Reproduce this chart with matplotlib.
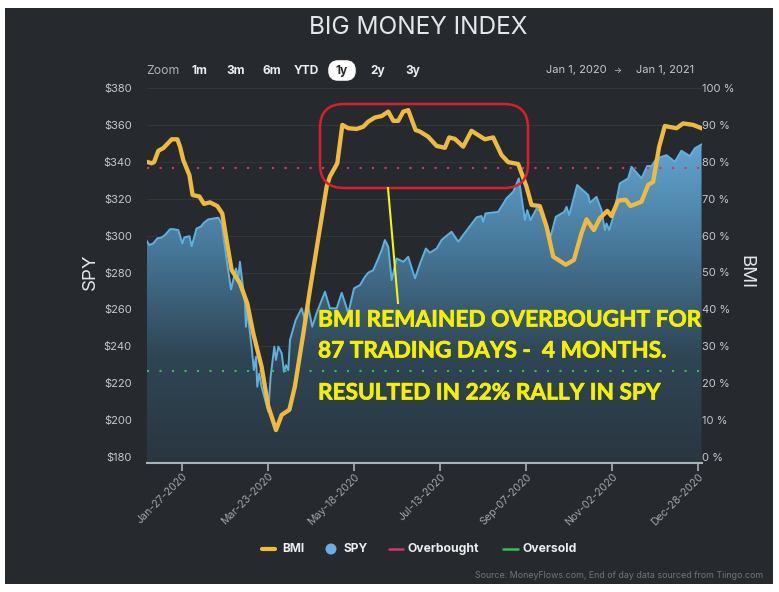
import numpy as np
import matplotlib
matplotlib.use('Agg')
import matplotlib.pyplot as plt
import matplotlib.patheffects as pe
from matplotlib.colors import LinearSegmentedColormap
from matplotlib.patches import FancyBboxPatch, Polygon, Rectangle, Circle

# days counted from Jan 1 2020
bmi_days = [3, 6.2, 7.8, 10.6, 13.8, 19.3, 23, 24.7, 26.8, 30.8, 32.9, 37.3, 40.3, 44.2, 49, 52.2, 55, 58.3,
            63.7, 68.5, 72.4, 77.8, 82.2, 87.2, 90.9, 95.9, 99.5, 105, 109.3, 120.2, 122.3, 127.1, 130.4,
            134.3, 139.7, 144, 147.3, 151.6, 156, 160.3, 163.6, 166.8, 170.1, 173.3, 178.1, 180.9, 186.3,
            191.8, 197.2, 200, 203.7, 209.1, 214.5, 223.2, 228.6, 234.1, 238.4, 244.9, 250.3, 253.6, 259,
            263.4, 267.7, 275.9, 281.2, 286.1, 289.4, 294.2, 298.1, 302.9, 305.7, 310, 315, 318, 325.2,
            329.5, 332.8, 336.7, 340.4, 348, 352.3, 358.8, 364.3]
bmi_vals = [80.0, 79.6, 79.9, 83.0, 83.7, 86.1, 86.1, 84.1, 80.5, 76.4, 71.0, 70.6, 68.6, 69.0, 68.0, 66.0, 58.8, 50.7,
            47.1, 41.6, 33.5, 24.5, 13.7, 7.3, 11.4, 12.8, 19.1, 33.5, 45.3, 73.3, 76.0, 79.6, 90.0,
            89.1, 88.9, 89.5, 90.9, 92.0, 92.4, 93.6, 91.1, 91.1, 93.6, 94.0, 88.6, 88.2, 86.8,
            84.3, 83.8, 86.6, 86.2, 84.1, 88.4, 86.1, 86.6, 81.8, 79.9, 79.4, 73.3, 68.3, 68.0,
            62.4, 54.3, 52.1, 53.4, 60.6, 64.4, 61.5, 64.7, 66.7, 65.3, 69.5, 69.7, 68.0, 69.2,
            73.7, 74.6, 84.1, 89.7, 89.1, 90.4, 90.0, 89.1]

spy_days = [3, 4.7, 7.3, 9.9, 12.7, 14.9, 18.2, 20.3, 23.6, 26.2, 27.5, 30.8, 32.3, 35.5, 38.1, 40.3, 43.1, 49.6,
            51.8, 55.1, 57.9, 61.1, 62.7, 63.7, 67, 67.6, 68.5, 71.3, 72.8, 74.2, 75, 76.3, 77.8, 82.2, 83.7,
            86.1, 87.2, 88.7, 90.9, 92.4, 93.7, 95.2, 96.3, 100, 103.9, 106, 108.2, 110.8, 113.6, 119.1, 122.3,
            126.7, 130, 134.3, 138, 141.9, 145.1, 147.3, 150.5, 153.8, 156, 158.1, 160.3, 162.5, 165.7, 170.1,
            173.3, 177.7, 181, 184.8, 187.4, 191.8, 195, 201.5, 205.9, 209.1, 217.8, 221, 222.1, 223.6, 231.9,
            237.3, 241.7, 245.3, 249.3, 250.8, 252.9, 256.9, 260.8, 266, 269.4, 273.1, 274.9, 276.4, 278.1,
            283.3, 290.5, 291.6, 295.9, 299.2, 301.3, 302.4, 304.2, 306.8, 311.1, 316.5, 318.7, 325.2, 328.9,
            331.7, 335, 341.5, 346.9, 351.2, 356.7, 359.9, 364.3]
spy_vals = [297.2, 294.9, 295.8, 298.5, 299, 300.3, 303.5, 303.5, 303, 295.8, 299, 299.7, 294.3, 303.9, 304.8, 307, 308.8, 309.7,
            306.6, 286.7, 270.8, 282.2, 277.7, 285.8, 263.3, 250.6, 259.7, 239.8, 227.1, 234.4, 218.1, 225.3, 218.1, 204.5, 223.5,
            239.8, 232.6, 239.8, 236.2, 226.2, 229.8, 227.1, 243.4, 254.2, 260.6, 254.2, 261.5, 250.6, 257.9, 269.6, 260.6,
            260.6, 269, 257.9, 271.4, 273.2, 277.7, 279.9, 281.3, 287.6, 292.1, 297.6, 294, 275.9, 287.6, 285.8,
            288.5, 276.8, 284.9, 293, 290.7, 293, 297.6, 302.1, 296.7, 300.3, 309.9, 310.6, 307.5, 312, 312.9,
            320.2, 323.8, 331, 308.4, 313.8, 308.4, 314.7, 312, 299.4, 310.2, 312, 312.9, 315.6, 311.1,
            327.4, 322, 317.8, 321, 313.8, 303, 306.6, 303, 310.2, 328.3, 331, 337.3, 331, 337.7,
            337.7, 341.8, 343.6, 340, 346, 343.1, 347.3, 349.4]

overbought = 78.4
oversold = 23.4

spy_ticks = [180, 200, 220, 240, 260, 280, 300, 320, 340, 360, 380]
bmi_ticks = [0, 10, 20, 30, 40, 50, 60, 70, 80, 90, 100]
date_ticks = [26, 82, 138, 194, 250, 306, 362]
date_labels = ['Jan-27-2020', 'Mar-23-2020', 'May-18-2020', 'Jul-13-2020', 'Sep-07-2020', 'Nov-02-2020', 'Dec-28-2020']
zoom_btns = ['1m', '3m', '6m', 'YTD', '1y', '2y', '3y']

BG = '#262a2f'
W, H = 779, 592
plt.rcParams['font.family'] = ['Inter', 'DejaVu Sans']

fig = plt.figure(figsize=(W / 100, H / 100), dpi=100, facecolor='white')

# px helper
def box(l, t, r, b):
    return [l / W, 1 - b / H, (r - l) / W, (b - t) / H]

# full size layer for the panel, behind the chart
bg = fig.add_axes([0, 0, 1, 1], zorder=0)
bg.set_xlim(0, W)
bg.set_ylim(H, 0)
bg.axis('off')
bg.add_patch(Rectangle((5, 8), 768, 576, fc=BG, ec='none'))

ax = fig.add_axes(box(147, 88, 702, 463), zorder=1)
ax.patch.set_alpha(0)
ax.set_xlim(3.2, 364.6)
ax.set_ylim(176.75, 380)
ax.grid(axis='y', color='#31363c', lw=0.8)
ax.set_axisbelow(True)

# gradient area under SPY
cmap = LinearSegmentedColormap.from_list('spy', ['#2a3640', '#2f4655', '#47789a', '#64a6d2'])
grad = np.linspace(1, 0, 256).reshape(-1, 1)
im = ax.imshow(grad, cmap=cmap, aspect='auto', extent=[3.2, 364.6, 176.75, 352], zorder=1)
poly = Polygon(list(zip(spy_days, spy_vals)) + [(spy_days[-1], 176.75), (spy_days[0], 176.75)],
               closed=True, fc='none', ec='none', transform=ax.transData)
ax.add_patch(poly)
im.set_clip_path(poly)
ax.set_xlim(3.2, 364.6)
ax.set_ylim(176.75, 380)
ax.plot(spy_days, spy_vals, color='#5fb0e0', lw=1.4, zorder=2)

ax.set_yticks(spy_ticks)
ax.set_yticklabels(['$%d' % v for v in spy_ticks])
ax.tick_params(axis='y', length=0, pad=11, labelsize=8, labelcolor='#c4c8cb')
ax.set_xticks(date_ticks)
ax.set_xticklabels(date_labels, rotation=45, ha='right', rotation_mode='anchor')
ax.tick_params(axis='x', length=6, width=1.2, color='#aab2b8', pad=0, labelsize=7.6, labelcolor='#a0a5a9')
for s in ['top', 'left', 'right']:
    ax.spines[s].set_visible(False)
ax.spines['bottom'].set_color('#aab2b8')
ax.spines['bottom'].set_linewidth(1.5)

# BMI on its own scale
ax2 = ax.twinx()
ax2.patch.set_alpha(0)
ax2.set_ylim(-1.63, 100)
ax2.axhline(overbought, color='#d6336c', lw=1.5, ls=(0, (1, 5)), zorder=3)
ax2.axhline(oversold, color='#2fc05a', lw=1.5, ls=(0, (1, 5)), zorder=3)
ax2.plot(bmi_days, bmi_vals, color='#efbb3f', lw=3.1, solid_joinstyle='round', zorder=4)
ax2.set_yticks(bmi_ticks)
ax2.set_yticklabels(['%d %%' % v for v in bmi_ticks])
ax2.tick_params(axis='y', length=0, pad=0, labelsize=8, labelcolor='#c4c8cb')
for s in ax2.spines.values():
    s.set_visible(False)

# top layer for header, legend and the hand drawn notes
top = fig.add_axes([0, 0, 1, 1], zorder=2)
top.set_xlim(0, W)
top.set_ylim(H, 0)
top.axis('off')
top.patch.set_alpha(0)

top.text(418, 28, 'BIG MONEY INDEX', color='#e4e6e8', fontsize=17.6, ha='center', va='center')
top.text(90, 272, 'SPY', color='#e4e6e8', fontsize=13.5, rotation=90, ha='center', va='center')
top.text(746, 272, 'BMI', color='#e4e6e8', fontsize=13.5, rotation=270, ha='center', va='center')

top.text(146, 71, 'Zoom', color='#aeb2b5', fontsize=8.8, ha='left', va='center')
top.add_patch(FancyBboxPatch((331, 63), 22, 15, boxstyle='round,pad=0,rounding_size=7', fc='white', ec='white', lw=4))
for name, xc in zip(zoom_btns, [199.5, 236, 271.5, 306, 342, 377.5, 413]):
    top.text(xc, 71, name, color='#26292d' if name == '1y' else '#eceeef', fontsize=8.6, fontweight='bold', ha='center', va='center')
top.text(546, 70, 'Jan 1, 2020', color='#c4c8cb', fontsize=8, ha='left', va='center')
top.text(618, 70, '→', color='#c4c8cb', fontsize=6, ha='center', va='center')
top.text(694, 70, 'Jan 1, 2021', color='#c4c8cb', fontsize=8, ha='right', va='center')

# legend
leg_y = 549
top.plot([262, 275], [leg_y, leg_y], color='#efbb3f', lw=3, solid_capstyle='round')
top.text(282, leg_y, 'BMI', color='#eceeef', fontsize=8.6, fontweight='bold', va='center')
top.add_patch(Circle((331, leg_y), 5.5, fc='#64b2e2', ec='none'))
top.text(344, leg_y, 'SPY', color='#eceeef', fontsize=8.6, fontweight='bold', va='center')
top.plot([389, 403], [leg_y, leg_y], color='#d6336c', lw=1.8, solid_capstyle='round')
top.text(408, leg_y, 'Overbought', color='#eceeef', fontsize=8.8, fontweight='bold', va='center')
top.plot([503, 518], [leg_y, leg_y], color='#2fc05a', lw=1.8, solid_capstyle='round')
top.text(523, leg_y, 'Oversold', color='#eceeef', fontsize=8.8, fontweight='bold', va='center')
top.text(763, 576, 'Source: MoneyFlows.com, End of day data sourced from Tiingo.com', color='#70757a', fontsize=6.4, ha='right', va='center')

# red box, pointer and note
top.add_patch(FancyBboxPatch((320, 104), 208, 84, boxstyle='round,pad=0,rounding_size=24', fc='none', ec='#d81f2e', lw=1.8))
top.plot([388, 398], [188, 303], color='#f5f50f', lw=1.5)
note = dict(color='#f5f000', family='Lato', fontsize=16.3, fontweight='bold', ha='left', va='center',
            path_effects=[pe.withStroke(linewidth=0.5, foreground='#f5f000')])
top.text(318, 320, 'BMI REMAINED OVERBOUGHT FOR', **note)
top.text(318, 351, '87 TRADING DAYS -  4 MONTHS.', **note)
top.text(318, 393, 'RESULTED IN 22% RALLY IN SPY', **note)

fig.savefig('out.png', dpi=100, facecolor='white')
